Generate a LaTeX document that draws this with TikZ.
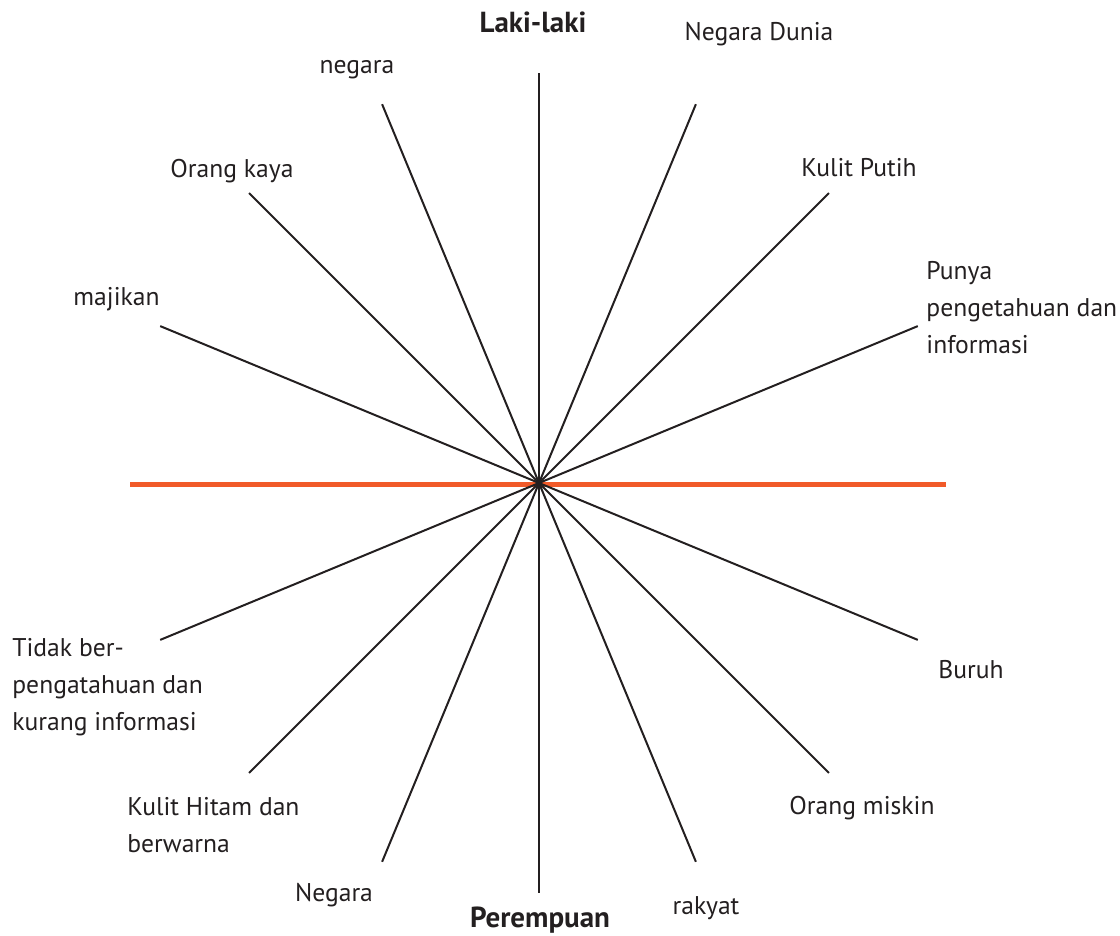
\documentclass[tikz,border=0pt]{standalone}
\usepackage{fontspec}
\setmainfont{PT Sans}
\usepackage{tikz}
\usetikzlibrary{calc}
\definecolor{inkblack}{HTML}{231F20}
\definecolor{axisorange}{HTML}{F15A29}
\tikzset{
  spoke/.style={
    draw=inkblack,
    line width=1pt
  },
  axisline/.style={
    draw=axisorange,
    line width=2.5pt
  },
  lbl/.style={
    text=inkblack,
    inner sep=0pt,
    align=left,
    font=\fontsize{12.8}{18.5}\selectfont
  },
  lblbold/.style={
    lbl,
    font=\fontsize{14.5}{18.5}\selectfont\bfseries
  }
}
\begin{document}
\begin{tikzpicture}[x=0.5pt, y=-0.5pt]
    \useasboundingbox (0,0) rectangle (1120,936);
    \coordinate (c) at (539,483);
    \coordinate (west) at (130,484);
    \coordinate (east) at (946,484);

    \draw[axisline] (west) -- (east);
    \foreach \k in {1,...,7,9,10,...,15} {
        \coordinate (s\k) at ($(c)+(\k*22.5:410)$);
        \draw[spoke] (c) -- (s\k);
    }

    \node[lblbold] (laki) at (533,22) {Laki-laki};
    \node[lblbold] (perempuan) at (540,920) {Perempuan};
    \node[lbl] (dunia) at (759,34) {Negara Dunia};
    \node[lbl] (negara) at (357,70) {negara};
    \node[lbl] (putih) at (859,168) {Kulit Putih};
    \node[lbl] (kaya) at (232,171) {Orang kaya};
    \node[lbl, anchor=east] (majikan) at (160,299) {majikan};
    \node[lbl, anchor=west] (punya) at (926,308) {Punya\\pengetahuan dan\\informasi};
    \node[lbl, anchor=west] (tidak) at (12,687) {Tidak ber-\\pengatahuan dan\\kurang informasi};
    \node[lbl, anchor=west] (buruh) at (938,670) {Buruh};
    \node[lbl, anchor=west] (hitam) at (127,825) {Kulit Hitam dan\\berwarna};
    \node[lbl] (miskin) at (862,808) {Orang miskin};
    \node[lbl] (negarab) at (334,895) {Negara};
    \node[lbl] (rakyat) at (706,908) {rakyat};
\end{tikzpicture}
\end{document}
